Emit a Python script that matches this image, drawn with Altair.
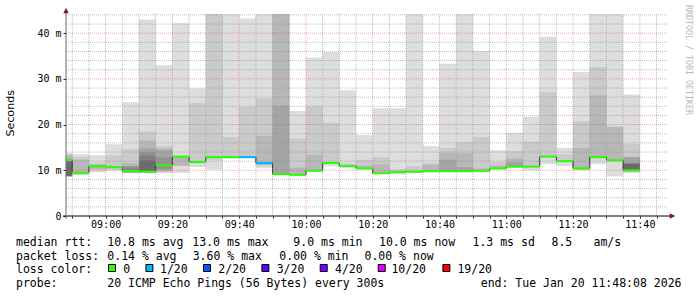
import altair as alt
import pandas as pd

# ---------------- time structure (minutes of day) ----------------
START_MIN = 8 * 60 + 48 + 8 / 60      # 08:48:08
END_MIN = 11 * 60 + 48 + 8 / 60       # 11:48:08
FIRST_STEP = 8 * 60 + 50              # 08:50
STEP = 5
N_COLS = 35

# ---------------- data (ms) ----------------
MEDIAN = [12.3, 9.45, 10.9, 10.7, 9.9, 9.7, 11.1, 13.0, 11.8, 12.9,
          12.9, 12.9, 11.6, 9.2, 9.0, 9.9, 11.6, 10.9, 10.4, 9.35,
          9.6, 9.7, 9.8, 9.8, 9.8, 9.9, 10.4, 10.8, 10.8, 13.0,
          12.0, 10.4, 12.9, 12.2, 10.0]
LOSS = [0, 0, 0, 0, 0, 0, 0, 0, 0, 0,
        0, 1, 1, 0, 0, 0, 0, 0, 0, 0,
        0, 0, 0, 0, 0, 0, 0, 0, 0, 0,
        0, 0, 0, 0, 0]

# smoke bands (outermost -> innermost), None = band not visible
L1_LO = [8.7, 8.9, 9.6, 9.9, 9.3, 9.4, 9.4, 9.4, 10.7, 10.2, 12.6, 12.6, 10.5, 8.9, 8.9, 9.7, 10.9, 10.6,
         10.2, 9.2, 9.1, 9.4, 9.6, 9.6, 9.6, 9.7, 10.3, 10.6, 10.0, 11.3, 10.9, 10.1, 11.3, 8.7, 9.4]
L1_HI = [13.8, 13.5, 13.3, 15.7, 24.9, 43.0, 33.0, 42.2, 27.9, 48, 48, 43.2, 48, 48, 23.0, 34.7, 35.9, 27.5,
         17.7, 23.6, 23.6, 48, 15.3, 33.3, 48, 36.1, 14.4, 18.2, 21.7, 39.2, 14.9, 31.5, 48, 48, 26.6]
L2_LO = [8.7, 9.1, 9.9, 10.1, 9.4, 9.5, 9.6, 11.0, 11.7, 12.3, 12.7, 12.7, 11.0, 8.9, 9.0, 9.8, 11.6, 10.7,
         10.3, 9.3, 9.4, 9.5, 9.7, 9.7, 9.7, 9.8, 10.3, 10.7, 10.7, 12.8, 11.9, 10.2, 12.5, 12.0, 9.6]
L2_HI = [13.4, 12.9, 11.6, 13.3, 14.6, 18.5, 15.3, 13.1, 24.7, 48, 17.3, 23.9, 25.7, 48, 16.9, 24.0, 20.4, 11.5,
         12.3, 12.9, 10.2, 10.9, 11.6, 14.9, 16.2, 17.3, 11.8, 14.2, 16.3, 27.1, 13.5, 20.7, 32.6, 19.5, 15.8]
L3_LO = [8.7, 9.2, 10.3, 10.4, 9.5, 9.5, 9.8, 11.0, None, None, None, None, 11.2, 9.0, 9.0, 9.8, None, None,
         10.4, 9.3, None, None, 9.7, 9.7, 9.7, 9.8, 10.4, 10.7, None, None, None, 10.2, 12.7, 12.0, None]
L3_HI = [13.3, 12.3, 11.2, 11.0, 11.6, 16.5, 14.8, 13.0, None, None, None, None, 17.5, 48, 10.6, 13.3, None, None,
         11.0, 11.3, None, None, 11.2, 13.8, 13.8, 10.4, 11.0, 12.6, None, None, None, 14.9, 26.4, 19.5, None]
L4_LO = [None, None, None, None, None, 9.6, 10.0, None, None, None, None, None, None, 9.1, None, None, None, None,
         None, None, None, None, None, 9.8, 9.8, None, None, 10.7, None, None, None, None, None, None, 9.8]
L4_HI = [None, None, None, None, None, 14.8, 14.4, None, None, None, None, None, None, 24.2, None, None, None, None,
         None, None, None, None, None, 12.3, 10.7, None, None, 11.8, None, None, None, None, None, None, 12.9]
L5_LO = [None, None, None, None, 9.6, 9.6, 10.3] + [None] * 28
L5_HI = [None, None, None, None, 10.9, 14.0, 12.8] + [None] * 28
L6_LO = [None, None, None, None, 9.7, 9.7] + [None] * 29
L6_HI = [None, None, None, None, 10.4, 13.2] + [None] * 29
L7_LO = [8.7, None, None, None, None, 9.8] + [None] * 28 + [9.9]
L7_HI = [12.0, None, None, None, None, 12.2] + [None] * 28 + [11.5]

SHADES = ["#dddddd", "#cacaca", "#b7b7b7", "#a4a4a4", "#919191", "#7e7e7e", "#6b6b6b"]
LOSS_COLORS = {0: "#26ff00", 1: "#00b8ff", 2: "#0059ff", 3: "#5e00ff",
               4: "#7e00ff", 10: "#dd00ff", 19: "#ff0000"}

Y_TICKS = [0, 10, 20, 30, 40]
YMAX = 44.2

# text
ROW1 = ["median rtt:", "10.8 ms avg", "13.0 ms max", "9.0 ms min", "10.0 ms now", "1.3 ms sd", "8.5", "am/s"]
ROW2 = ["packet loss:", "0.14 % avg", "3.60 % max", "0.00 % min", "0.00 % now"]
ROW3 = ["loss color:"]
LEGEND_LABELS = ["0", "1/20", "2/20", "3/20", "4/20", "10/20", "19/20"]
LEGEND_KEYS = [0, 1, 2, 3, 4, 10, 19]
ROW4 = ["probe:", "20 ICMP Echo Pings (56 Bytes) every 300s"]
END_TEXT = "end: Tue Jan 20 11:48:08 2026"
Y_TITLE = "Seconds"
WATERMARK = "RRDTOOL / TOBI OETIKER"

# ---------------- layout ----------------
W, H = 601, 202
PAD_L, PAD_T = 66, 14
ROW1_X = [16, 107.3, 192.3, 293.3, 379.0, 472.5, 551.5, 593.5]
ROW2_X = [16, 107.3, 192.7, 279.3, 364.5]
ROW3_X = [16]
SQ_X = [108.3, 145.7, 203.3, 261.7, 320.0, 378.0, 442.7]
LEG_TX_X = [123.3, 160.0, 218.3, 276.7, 335.0, 391.4, 457.4]
ROW4_X = [16, 107.3]
BASELINES = [245.5, 259.5, 273.0, 287.0]
MONO = "DejaVu Sans Mono"

col_start = [START_MIN] + [FIRST_STEP + STEP * i for i in range(N_COLS - 1)]
col_end = [FIRST_STEP + STEP * i for i in range(N_COLS)]

# smoke table
levels = [(L1_LO, L1_HI), (L2_LO, L2_HI), (L3_LO, L3_HI), (L4_LO, L4_HI),
          (L5_LO, L5_HI), (L6_LO, L6_HI), (L7_LO, L7_HI)]
rows = []
for k, (lo, hi) in enumerate(levels):
    for i in range(N_COLS):
        if lo[i] is not None:
            rows.append({"x0": col_start[i], "x1": col_end[i], "lo": lo[i], "hi": hi[i],
                         "shade": SHADES[k]})
smoke_df = pd.DataFrame(rows)

med_df = pd.DataFrame({"x0": col_start, "x1": col_end, "med": MEDIAN,
                       "lc": [LOSS_COLORS[l] for l in LOSS]})
conn_df = pd.DataFrame({"x0": col_start[1:], "lo": MEDIAN[:-1], "hi": MEDIAN[1:]})

xs = alt.Scale(domain=[START_MIN, END_MIN], nice=False, zero=False)
ys = alt.Scale(domain=[0, YMAX], nice=False, zero=False)

x_ticks = [FIRST_STEP + STEP * i for i in range(36)]
x_major = [v for v in x_ticks if v % 20 == 0]
x_minor = [v for v in x_ticks if v % 20 != 0]
y_minor = [v for v in range(2, 45, 2) if v % 10 != 0]
y_major = [10, 20, 30, 40]

x_axis = alt.Axis(values=x_ticks,
                  labelExpr="datum.value % 20 == 0 ? utcFormat(datum.value * 60000, '%H:%M') : ''",
                  tickSize=2, tickColor="#1f1f1f", labelFont=MONO, labelFontSize=10,
                  labelColor="#000000", labelPadding=1, domain=False, grid=False,
                  title=None, labelOverlap=False, labelFlush=False)
y_axis = alt.Axis(values=Y_TICKS,
                  labelExpr="datum.value == 0 ? '0\u00a0\u00a0' : datum.value + ' m'",
                  tickSize=3, tickColor="#1f1f1f", labelFont=MONO, labelFontSize=10,
                  labelColor="#000000", labelPadding=2, domain=False, grid=False,
                  title=None)

X0 = alt.X("x0:Q", scale=xs, axis=x_axis, title=None)
YLO = alt.Y("lo:Q", scale=ys, axis=y_axis, title=None)

smoke = alt.Chart(smoke_df).mark_rect(clip=True, strokeWidth=0).encode(
    x=X0, x2="x1:Q", y=YLO, y2="hi:Q",
    fill=alt.Fill("shade:N", scale=None),
)

conn = alt.Chart(conn_df).mark_rule(color="#202020", strokeWidth=1).encode(
    x=X0, y=YLO, y2="hi:Q",
)

def vgrid(vals, color, op):
    return alt.Chart(pd.DataFrame({"x0": vals})).mark_rule(
        color=color, opacity=op, strokeDash=[1, 1], strokeWidth=1).encode(
        x=X0, y=alt.value(0), y2=alt.value(H))

def hgrid(vals, color, op):
    return alt.Chart(pd.DataFrame({"lo": vals})).mark_rule(
        color=color, opacity=op, strokeDash=[1, 1], strokeWidth=1).encode(
        y=YLO, x=alt.value(0), x2=alt.value(W))

grid = [vgrid(x_minor, "#8f8f8f", 0.6), hgrid(y_minor, "#8f8f8f", 0.6),
        vgrid(x_major, "#de4f4f", 0.5), hgrid(y_major, "#de4f4f", 0.5)]

med = alt.Chart(med_df).mark_rule(strokeWidth=2).encode(
    x=X0, x2="x1:Q", y=alt.Y("med:Q", scale=ys, axis=y_axis, title=None),
    color=alt.Color("lc:N", scale=None),
)

one = pd.DataFrame({"k": [0]})


def deco_rule(color, width, **enc):
    return alt.Chart(one).mark_rule(color=color, strokeWidth=width).encode(**enc)


x_line = deco_rule("#000000", 1, x=alt.value(-3), x2=alt.value(W + 4), y=alt.value(H))
y_line = deco_rule("#6a6a6a", 1, x=alt.value(0), y=alt.value(-4), y2=alt.value(H + 3))
arrow_up = alt.Chart(one).mark_point(shape="M-1,1L1,1L0,-1Z", filled=True, size=30,
                                     color="#801f1f", opacity=1).encode(
    x=alt.value(0), y=alt.value(-3.5))
arrow_right = alt.Chart(one).mark_point(shape="M-1,-1L1,0L-1,1Z", filled=True, size=30,
                                        color="#801f1f", opacity=1).encode(
    x=alt.value(W + 5.5), y=alt.value(H))


def label(text, x_abs, y_abs, align="left", baseline="alphabetic", font=MONO, size=11.5,
          color="#000000", angle=0):
    kw = dict(align=align, baseline=baseline, font=font, fontSize=size, color=color)
    if angle:
        kw["angle"] = angle
    return alt.Chart(pd.DataFrame({"t": [text]})).mark_text(**kw).encode(
        x=alt.value(x_abs - PAD_L), y=alt.value(y_abs - PAD_T), text="t:N")


texts = []
for items, xs_, b in [(ROW1, ROW1_X, BASELINES[0]), (ROW2, ROW2_X, BASELINES[1]),
                      (ROW3, ROW3_X, BASELINES[2]), (LEGEND_LABELS, LEG_TX_X, BASELINES[2]),
                      (ROW4, ROW4_X, BASELINES[3])]:
    for t, xx in zip(items, xs_):
        texts.append(label(t, xx, b))
texts.append(label(END_TEXT, 681.5, BASELINES[3], align="right"))
texts.append(label(Y_TITLE, 10.5, 113.3, align="center", baseline="middle",
                   font="DejaVu Sans", size=11.1, angle=270))
texts.append(label(WATERMARK, 687.5, 60, align="center", baseline="middle",
                   size=8.3, color="#b8b8b8", angle=90))

squares = []
for key, sx in zip(LEGEND_KEYS, SQ_X):
    squares.append(
        alt.Chart(one).mark_rect(stroke="#000000", strokeWidth=1, fill=LOSS_COLORS[key]).encode(
            x=alt.value(sx + 0.2 - PAD_L), x2=alt.value(sx + 7.2 - PAD_L),
            y=alt.value(264.5 - PAD_T), y2=alt.value(271.5 - PAD_T)))

chart = alt.layer(
    smoke, conn, *grid, med, x_line, y_line, arrow_up, arrow_right, *texts, *squares,
).properties(
    width=W, height=H,
    autosize=alt.AutoSizeParams(type="none"),
    padding={"left": PAD_L, "top": PAD_T, "right": 697 - PAD_L - W, "bottom": 297 - PAD_T - H},
    background="#ffffff",
).configure_view(strokeWidth=0)

chart.save("out.html", embed_options={"renderer": "svg", "actions": False})
